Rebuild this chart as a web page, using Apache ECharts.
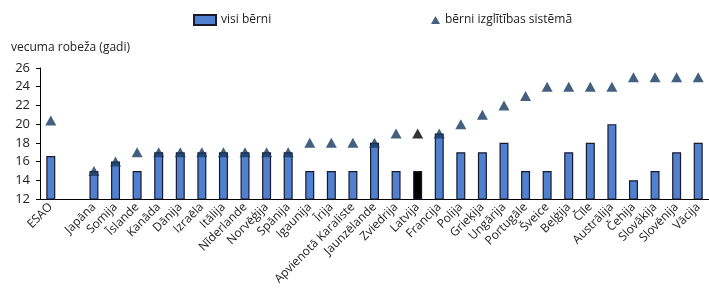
<!DOCTYPE html>
<html>
<head>
<meta charset="utf-8">
<script src="https://cdn.jsdelivr.net/npm/echarts@6/dist/echarts.min.js"></script>
<style>
  html, body { margin: 0; padding: 0; background: #fff; }
  #chart { width: 709px; height: 295px; }
</style>
</head>
<body>
<div id="chart"></div>
<script>
  // valstis (tukšā vieta aiz ESAO ir oriģinālā)
  const countries = ['ESAO', '', 'Japāna', 'Somija', 'Īslande', 'Kanāda', 'Dānija', 'Izraēla', 'Itālija',
    'Nīderlande', 'Norvēģija', 'Spānija', 'Igaunija', 'Īrija', 'Apvienotā Karaliste', 'Jaunzēlande',
    'Zviedrija', 'Latvija', 'Francija', 'Polija', 'Grieķija', 'Ungārija', 'Portugāle', 'Šveice',
    'Beļģija', 'Čīle', 'Austrālija', 'Čehija', 'Slovākija', 'Slovēnija', 'Vācija'];
  const allChildren = [16.6, null, 15, 16, 15, 17, 17, 17, 17, 17, 17, 17, 15, 15, 15, 18,
    15, 15, 19, 17, 17, 18, 15, 15, 17, 18, 20, 14, 15, 17, 18];
  const inEducation = [20.4, null, 15, 16, 17, 17, 17, 17, 17, 17, 17, 17, 18, 18, 18, 18,
    19, 19, 19, 20, 21, 22, 23, 24, 24, 24, 24, 25, 25, 25, 25];
  const yTicks = [12, 26, 2]; // min, max, solis
  const highlight = 'Latvija';

  const font = '"Open Sans", sans-serif';
  const chart = echarts.init(document.getElementById('chart'));

  const barData = allChildren.map((v, i) => countries[i] === highlight
    ? { value: v, itemStyle: { color: '#000000' } } : v);
  const triData = inEducation.map((v, i) => countries[i] === highlight
    ? { value: v, itemStyle: { color: '#000000' } } : v);

  const option = {
    animation: false,
    textStyle: { fontFamily: font },
    title: {
      text: 'vecuma robeža (gadi)',
      left: 6,
      top: 37,
      textStyle: { fontSize: 12, fontWeight: 'normal', color: '#222', fontFamily: font }
    },
    legend: [
      {
        data: [{ name: 'visi bērni', icon: 'rect' }],
        left: 188,
        top: 9,
        itemWidth: 22,
        itemHeight: 10,
        itemGap: 4,
        textStyle: { fontSize: 12, color: '#222', fontFamily: font }
      },
      {
        data: ['bērni izglītības sistēmā'],
        left: 426,
        top: 9,
        itemWidth: 9,
        itemHeight: 8,
        itemGap: 4,
        textStyle: { fontSize: 12, color: '#222', fontFamily: font }
      }
    ],
    grid: { left: 40, right: -3, top: 68, bottom: 96, containLabel: false },
    xAxis: {
      type: 'category',
      data: countries,
      axisLine: { lineStyle: { color: '#000', width: 1 } },
      axisTick: { inside: true, length: 4, lineStyle: { color: '#000' } },
      axisLabel: { rotate: 45, interval: 0, fontSize: 12, color: '#222', margin: 6, fontFamily: font },
      splitLine: { show: false }
    },
    yAxis: {
      type: 'value',
      min: yTicks[0],
      max: yTicks[1],
      interval: yTicks[2],
      axisLine: { show: true, lineStyle: { color: '#000', width: 1 } },
      axisTick: { show: true, length: 4, lineStyle: { color: '#000' } },
      axisLabel: { fontSize: 13, color: '#222', margin: 10, fontFamily: font },
      splitLine: { show: false }
    },
    series: [
      {
        name: 'visi bērni',
        type: 'bar',
        data: barData,
        barWidth: 9,
        itemStyle: { color: '#4F81D0', borderColor: '#1a1a2a', borderWidth: 1.2 }
      },
      {
        name: 'bērni izglītības sistēmā',
        type: 'scatter',
        data: triData,
        symbol: 'triangle',
        symbolSize: [11, 10],
        itemStyle: { color: '#17375E' },
        z: 3
      }
    ]
  };

  chart.setOption(option);
  window.addEventListener('resize', function () {
    chart.resize();
  });
</script>
</body>
</html>
